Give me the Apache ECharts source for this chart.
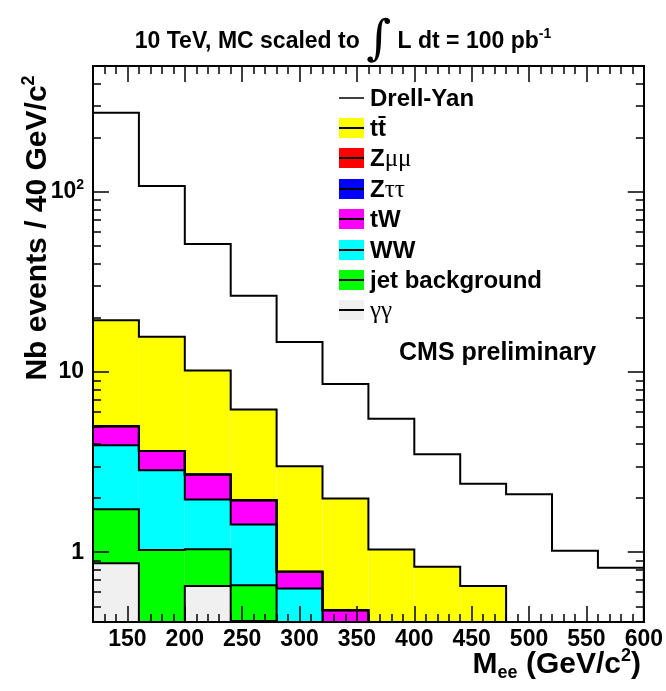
<!DOCTYPE html>
<html>
<head>
<meta charset="utf-8">
<script src="https://cdn.jsdelivr.net/npm/echarts@6/dist/echarts.min.js"></script>
<style>
html, body { margin: 0; padding: 0; background: #fff; }
#chart { width: 666px; height: 691px; }
</style>
</head>
<body>
<div id="chart"></div>
<script>
// bin edges of the M_ee histogram (GeV/c^2)
const massEdges = [120, 160, 200, 240, 280, 320, 360, 400, 440, 480, 520, 560, 600];

// events per bin
const drellYan   = [275, 108, 51.4, 26.5, 14.7, 8.6, 5.5, 3.5, 2.4, 2.1, 1.02, 0.82];
const gammaGamma = [0.87, 0, 0.65, 0.415, 0, 0, 0, 0, 0, 0, 0, 0];
const jetBkg     = [0.86, 1.03, 0.39, 0.24, 0, 0, 0, 0, 0, 0, 0, 0];
const wwBkg      = [2.2, 1.82, 0.92, 0.77, 0.63, 0, 0, 0, 0, 0, 0, 0];
const twBkg      = [1.07, 0.8, 0.74, 0.52, 0.15, 0.476, 0, 0, 0, 0, 0, 0];
const zTauTau    = [0, 0, 0, 0, 0, 0, 0, 0, 0, 0, 0, 0];
const zMuMu      = [0, 0, 0, 0, 0, 0, 0, 0, 0, 0, 0, 0];
const ttbar      = [14.4, 12.05, 7.5, 4.25, 2.22, 1.51, 1.035, 0.83, 0.65, 0, 0, 0];

// tick values
const xMajorTicks = [150, 200, 250, 300, 350, 400, 450, 500, 550, 600];
const xMinorTicks = [130, 140, 160, 170, 180, 190, 210, 220, 230, 240, 260, 270, 280, 290,
  310, 320, 330, 340, 360, 370, 380, 390, 410, 420, 430, 440, 460, 470, 480, 490,
  510, 520, 530, 540, 560, 570, 580, 590];
const yMajorTicks = [1, 10, 100];
const yMinorTicks = [0.5, 0.6, 0.7, 0.8, 0.9, 2, 3, 4, 5, 6, 7, 8, 9,
  20, 30, 40, 50, 60, 70, 80, 90, 200, 300, 400, 500];

const Y_MIN = 0.41;
const Y_MAX = 500;

// stack from the bottom up
const stackSeries = [gammaGamma, jetBkg, wwBkg, twBkg, zTauTau, zMuMu, ttbar];
const stackColors = ['#f0f0f0', '#00ff00', '#00ffff', '#ff00ff', '#0000ff', '#ff0000', '#ffff00'];

// cumulative levels
const cumLevels = [];
let running = massEdges.slice(1).map(() => 0);
stackSeries.forEach(s => {
  running = running.map((v, i) => v + s[i]);
  cumLevels.push(running.slice());
});

// rectangles for the filled stack
const fillData = [];
stackSeries.forEach((s, k) => {
  s.forEach((v, b) => {
    if (v <= 0) return;
    const top = cumLevels[k][b];
    const base = Math.max(top - v, Y_MIN);
    if (top <= Y_MIN) return;
    fillData.push([massEdges[b], massEdges[b + 1], base, top, k]);
  });
});

const FONT = '"Liberation Sans", Arial, sans-serif';
const GREEK = '"Liberation Serif", "DejaVu Serif", serif';

function stepOutline(api, values, width) {
  const pts = [api.coord([massEdges[0], Y_MIN])];
  values.forEach((v, b) => {
    const y = Math.max(v, Y_MIN);
    pts.push(api.coord([massEdges[b], y]));
    pts.push(api.coord([massEdges[b + 1], y]));
  });
  pts.push(api.coord([massEdges[massEdges.length - 1], Y_MIN]));
  return {
    type: 'polyline',
    shape: { points: pts },
    style: { stroke: '#000', lineWidth: width, fill: null }
  };
}

function xAxisCfg(pos, ticks, len, withLabels) {
  return {
    type: 'value', min: 120, max: 600, position: pos, z: 10,
    splitLine: { show: false },
    axisLine: { show: true, onZero: false, lineStyle: { color: '#000', width: 2 } },
    axisTick: { show: true, inside: true, length: len, customValues: ticks, lineStyle: { color: '#000', width: 1.5 } },
    axisLabel: withLabels ? {
      show: true, customValues: ticks, margin: 6,
      color: '#000', fontFamily: FONT, fontWeight: 'bold', fontSize: 23
    } : { show: false }
  };
}

function yAxisCfg(pos, ticks, len, withLabels) {
  return {
    type: 'log', logBase: 10, min: Y_MIN, max: Y_MAX, position: pos, z: 10,
    splitLine: { show: false },
    axisLine: { show: true, onZero: false, lineStyle: { color: '#000', width: 2 } },
    axisTick: { show: true, inside: true, length: len, customValues: ticks, lineStyle: { color: '#000', width: 1.5 } },
    axisLabel: withLabels ? {
      show: true, customValues: ticks, margin: 9,
      formatter: v => (v >= 99 ? '{b|10}{s|2}' : (v >= 9.9 ? '{b|10}' : '{b|1}')),
      rich: {
        b: { color: '#000', fontFamily: FONT, fontWeight: 'bold', fontSize: 23 },
        s: { color: '#000', fontFamily: FONT, fontWeight: 'bold', fontSize: 14, padding: [0, 0, 14, 0] }
      }
    } : { show: false }
  };
}

const chart = echarts.init(document.getElementById('chart'));

const legendItems = [
  { label: '{b|Drell-Yan}', color: null },
  { label: '{b|tt\u0304}', color: '#ffff00' },
  { label: '{b|Z}{g|\u03bc\u03bc}', color: '#ff0000' },
  { label: '{b|Z}{g|\u03c4\u03c4}', color: '#0000ff' },
  { label: '{b|tW}', color: '#ff00ff' },
  { label: '{b|WW}', color: '#00ffff' },
  { label: '{b|jet background}', color: '#00ff00' },
  { label: '{g|\u03b3\u03b3}', color: '#f0f0f0' }
];
const legendY = [98, 128, 158, 189, 219, 250, 280, 310];
const legendRich = {
  b: { fontFamily: FONT, fontWeight: 'bold', fontSize: 24, fill: '#000' },
  g: { fontFamily: GREEK, fontSize: 25, fill: '#000' }
};

const graphics = [];
legendItems.forEach((it, i) => {
  const y = legendY[i];
  if (it.color) {
    graphics.push({ type: 'rect', shape: { x: 339, y: y - 10, width: 25, height: 20 }, style: { fill: it.color }, z: 20 });
  }
  graphics.push({ type: 'line', shape: { x1: 339, y1: y, x2: 364, y2: y }, style: { stroke: '#000', lineWidth: it.color ? 2 : 1.5 }, z: 21 });
  graphics.push({ type: 'text', x: 370, y: y + 1, style: { text: it.label, rich: legendRich, verticalAlign: 'middle', align: 'left' }, z: 21 });
});

graphics.push({
  type: 'text', x: 399, y: 353, z: 21,
  style: { text: 'CMS preliminary', fontFamily: FONT, fontWeight: 'bold', fontSize: 25, fill: '#000', verticalAlign: 'middle' }
});

graphics.push({
  type: 'text', x: 343, y: 42, z: 21,
  style: {
    text: '{a|10 TeV, MC scaled to }{i|\u222b}{a| L dt = 100 pb}{s|-1}',
    align: 'center', verticalAlign: 'middle',
    rich: {
      a: { fontFamily: FONT, fontWeight: 'bold', fontSize: 23, fill: '#000' },
      i: { fontFamily: '"DejaVu Serif", serif', fontSize: 48, fill: '#000' },
      s: { fontFamily: FONT, fontWeight: 'bold', fontSize: 14, fill: '#000', padding: [0, 0, 16, 0] }
    }
  }
});

graphics.push({
  type: 'text', x: 641, y: 665, z: 21,
  style: {
    text: '{a|M}{d|ee}{a| (GeV/c}{s|2}{a|)}',
    align: 'right', verticalAlign: 'middle',
    rich: {
      a: { fontFamily: FONT, fontWeight: 'bold', fontSize: 30, fill: '#000' },
      d: { fontFamily: FONT, fontWeight: 'bold', fontSize: 18, fill: '#000', padding: [16, 0, 0, 0] },
      s: { fontFamily: FONT, fontWeight: 'bold', fontSize: 18, fill: '#000', padding: [0, 0, 18, 0] }
    }
  }
});

graphics.push({
  type: 'text', x: 38, y: 228, rotation: Math.PI / 2, z: 21,
  style: {
    text: '{a|Nb events / 40 GeV/c}{s|2}',
    align: 'center', verticalAlign: 'middle',
    rich: {
      a: { fontFamily: FONT, fontWeight: 'bold', fontSize: 30, fill: '#000' },
      s: { fontFamily: FONT, fontWeight: 'bold', fontSize: 18, fill: '#000', padding: [0, 0, 18, 0] }
    }
  }
});

const option = {
  animation: false,
  backgroundColor: '#fff',
  grid: { left: 93, top: 66, right: 22, bottom: 69, show: false },
  xAxis: [
    xAxisCfg('bottom', xMajorTicks, 16, true),
    xAxisCfg('bottom', xMinorTicks, 8, false),
    xAxisCfg('top', xMajorTicks, 16, false),
    xAxisCfg('top', xMinorTicks, 8, false)
  ],
  yAxis: [
    yAxisCfg('left', yMajorTicks, 16, true),
    yAxisCfg('left', yMinorTicks, 8, false),
    yAxisCfg('right', yMajorTicks, 16, false),
    yAxisCfg('right', yMinorTicks, 8, false)
  ],
  series: [
    {
      type: 'custom', name: 'stack fill', clip: true,
      xAxisIndex: 0, yAxisIndex: 0,
      encode: { x: [0, 1], y: [2, 3] },
      data: fillData,
      renderItem: (params, api) => {
        const p0 = api.coord([api.value(0), api.value(3)]);
        const p1 = api.coord([api.value(1), api.value(2)]);
        return {
          type: 'rect',
          shape: { x: p0[0], y: p0[1], width: p1[0] - p0[0], height: p1[1] - p0[1] },
          style: { fill: stackColors[api.value(4)], stroke: null }
        };
      }
    },
    {
      type: 'custom', name: 'stack outline', clip: true,
      xAxisIndex: 0, yAxisIndex: 0,
      data: cumLevels.map((c, k) => [massEdges[0], Math.max(c[0], Y_MIN), k]),
      renderItem: (params, api) => stepOutline(api, cumLevels[api.value(2)], 2)
    },
    {
      type: 'custom', name: 'Drell-Yan', clip: true,
      xAxisIndex: 0, yAxisIndex: 0,
      data: [[massEdges[0], drellYan[0]]],
      renderItem: (params, api) => stepOutline(api, drellYan, 2)
    }
  ],
  graphic: graphics
};

chart.setOption(option);
</script>
</body>
</html>
